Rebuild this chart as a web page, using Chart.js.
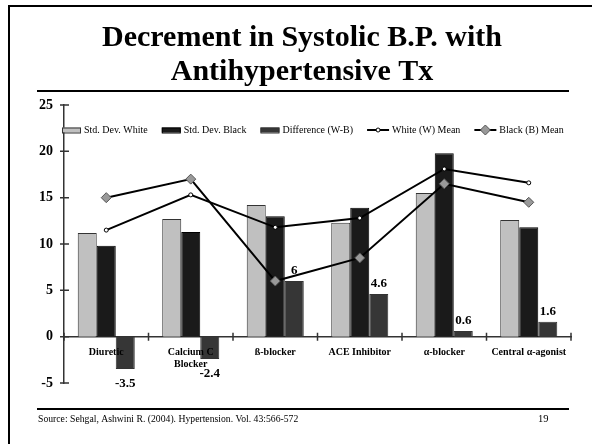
<!DOCTYPE html>
<html>
<head>
<meta charset="utf-8">
<style>
  html, body { margin: 0; padding: 0; background: #fff; }
  canvas { display: block; }
</style>
<script src="https://cdn.jsdelivr.net/npm/chart.js@4.4.1/dist/chart.umd.min.js"></script>
</head>
<body>
<canvas id="bpChart" width="592" height="444"></canvas>
<script>
const titleLines = ['Decrement in Systolic B.P. with', 'Antihypertensive Tx'];
const sourceNote = 'Source: Sehgal, Ashwini R. (2004). Hypertension. Vol. 43:566-572';
const pageNumber = '19';

const categories = ['Diuretic', ['Calcium C', 'Blocker'], 'ß-blocker', 'ACE Inhibitor', 'α-blocker', 'Central α-agonist'];
const sdWhite = [11.2, 12.7, 14.2, 12.3, 15.5, 12.6];
const sdBlack = [9.8, 11.3, 13.0, 13.9, 19.8, 11.8];
const diffWB = [-3.5, -2.4, 6, 4.6, 0.6, 1.6];
const meanWhite = [11.5, 15.3, 11.8, 12.8, 18.1, 16.6];
const meanBlack = [15, 17, 6, 8.5, 16.5, 14.5];
const yTicks = [-5, 0, 5, 10, 15, 20, 25];

const serif = '"Liberation Serif", "Times New Roman", serif';

// slide frame, title, rules and footer
const slideDecor = {
    id: 'slideDecor',
    beforeDraw(chart) {
        const ctx = chart.ctx;
        ctx.save();
        ctx.fillStyle = '#fff';
        ctx.fillRect(0, 0, chart.width, chart.height);
        ctx.fillStyle = '#000';
        ctx.fillRect(8, 5, 584, 2);
        ctx.fillRect(8, 5, 2, 439);
        ctx.fillRect(37, 90, 532, 2);
        ctx.fillRect(37, 408, 532, 2);
        ctx.textAlign = 'center';
        ctx.textBaseline = 'alphabetic';
        ctx.font = 'bold 30px ' + serif;
        ctx.fillText(titleLines[0], 302, 46);
        ctx.fillText(titleLines[1], 302, 80);
        ctx.textAlign = 'left';
        ctx.font = '9.7px ' + serif;
        ctx.fillText(sourceNote, 38, 422);
        ctx.font = '10.5px ' + serif;
        ctx.fillText(pageNumber, 538, 422);
        ctx.restore();
    }
};

// legend drawn inside the plot, like the slide
const slideLegend = {
    id: 'slideLegend',
    afterDraw(chart) {
        const ctx = chart.ctx;
        const y = 130;
        let x = 62;
        ctx.save();
        ctx.font = '10px ' + serif;
        ctx.textBaseline = 'middle';
        chart.data.datasets.forEach(ds => {
            if (ds.type === 'line') {
                ctx.strokeStyle = ds.borderColor;
                ctx.lineWidth = 2;
                ctx.beginPath();
                ctx.moveTo(x, y);
                ctx.lineTo(x + 22, y);
                ctx.stroke();
                ctx.fillStyle = ds.pointBackgroundColor;
                ctx.strokeStyle = ds.pointBorderColor;
                ctx.lineWidth = 1;
                Chart.helpers.drawPoint(ctx, { pointStyle: ds.pointStyle, radius: ds.pointRadius, borderWidth: 1, rotation: 0 }, x + 11, y);
                x += 23;
            } else {
                ctx.fillStyle = ds.backgroundColor;
                ctx.fillRect(x, y - 2.5, 19, 5);
                ctx.strokeStyle = ds.borderColor;
                ctx.lineWidth = 1;
                ctx.strokeRect(x + 0.5, y - 2, 18, 5);
                x += 20;
            }
            ctx.fillStyle = '#000';
            ctx.fillText(ds.label, x + 2, y + 0.5);
            x += 2 + ctx.measureText(ds.label).width + 14;
        });
        ctx.restore();
    }
};

// value labels on the difference bars
const barValueLabels = {
    id: 'barValueLabels',
    afterDatasetsDraw(chart) {
        const ctx = chart.ctx;
        const meta = chart.getDatasetMeta(2);
        ctx.save();
        ctx.font = 'bold 13px ' + serif;
        ctx.fillStyle = '#000';
        ctx.textAlign = 'center';
        ctx.textBaseline = 'alphabetic';
        meta.data.forEach((bar, i) => {
            const v = diffWB[i];
            const ty = v >= 0 ? bar.y - 7 : bar.y + 18;
            ctx.fillText(String(v), bar.x, ty);
        });
        ctx.restore();
    }
};

// tick marks that cross the axis lines
const crossTicks = {
    id: 'crossTicks',
    afterDraw(chart) {
        const ctx = chart.ctx;
        const xs = chart.scales.x;
        const ys = chart.scales.y;
        const left = chart.chartArea.left;
        const zero = ys.getPixelForValue(0);
        ctx.save();
        ctx.strokeStyle = '#333';
        ctx.lineWidth = 1.5;
        ctx.beginPath();
        yTicks.forEach(v => {
            const p = ys.getPixelForValue(v);
            ctx.moveTo(left - 4, p);
            ctx.lineTo(left + 5, p);
        });
        for (let i = 0; i <= categories.length; i++) {
            const p = xs.getPixelForValue(i - 0.5);
            ctx.moveTo(p, zero - 4);
            ctx.lineTo(p, zero + 4);
        }
        ctx.stroke();
        ctx.restore();
    }
};

const bpChart = document.getElementById('bpChart');

new Chart(bpChart, {
    type: 'bar',
    data: {
        labels: categories,
        datasets: [
            {
                label: 'Std. Dev. White',
                data: sdWhite,
                backgroundColor: '#C0C0C0',
                borderColor: '#333333',
                borderWidth: 1,
                order: 1
            },
            {
                label: 'Std. Dev. Black',
                data: sdBlack,
                backgroundColor: '#1A1A1A',
                borderColor: '#000000',
                borderWidth: 1,
                order: 1
            },
            {
                label: 'Difference (W-B)',
                data: diffWB,
                backgroundColor: '#363636',
                borderColor: '#333333',
                borderWidth: 1,
                order: 1
            },
            {
                type: 'line',
                label: 'White (W) Mean',
                data: meanWhite,
                borderColor: '#000',
                borderWidth: 2,
                pointStyle: 'circle',
                pointRadius: 2,
                pointBackgroundColor: '#fff',
                pointBorderColor: '#000',
                pointBorderWidth: 1,
                tension: 0,
                fill: false,
                order: 0
            },
            {
                type: 'line',
                label: 'Black (B) Mean',
                data: meanBlack,
                borderColor: '#000',
                borderWidth: 2,
                pointStyle: 'rectRot',
                pointRadius: 5,
                pointBackgroundColor: '#999999',
                pointBorderColor: '#555555',
                pointBorderWidth: 1,
                tension: 0,
                fill: false,
                order: 0
            }
        ]
    },
    options: {
        responsive: false,
        animation: false,
        categoryPercentage: 0.675,
        barPercentage: 1.0,
        layout: {
            padding: { top: 105, bottom: 61, left: 0, right: 21 }
        },
        plugins: {
            legend: { display: false },
            tooltip: { enabled: false }
        },
        scales: {
            x: {
                position: { y: 0 },
                offset: true,
                grid: { display: false, drawTicks: false },
                border: { display: true, color: '#333', width: 1.5 },
                ticks: {
                    z: 1,
                    color: '#000',
                    font: { family: serif, size: 10, weight: 'bold' },
                    padding: 10,
                    maxRotation: 0,
                    autoSkip: false
                },
                afterFit: s => { s.height = 0; }
            },
            y: {
                min: -5,
                max: 25,
                grid: { display: false, drawTicks: false },
                border: { display: true, color: '#333', width: 1.5 },
                ticks: {
                    stepSize: 5,
                    color: '#000',
                    font: { family: serif, size: 14, weight: 'bold' },
                    padding: 11
                },
                afterFit: s => { s.width = 64; }
            }
        }
    },
    plugins: [slideDecor, slideLegend, barValueLabels, crossTicks]
});
</script>
</body>
</html>
